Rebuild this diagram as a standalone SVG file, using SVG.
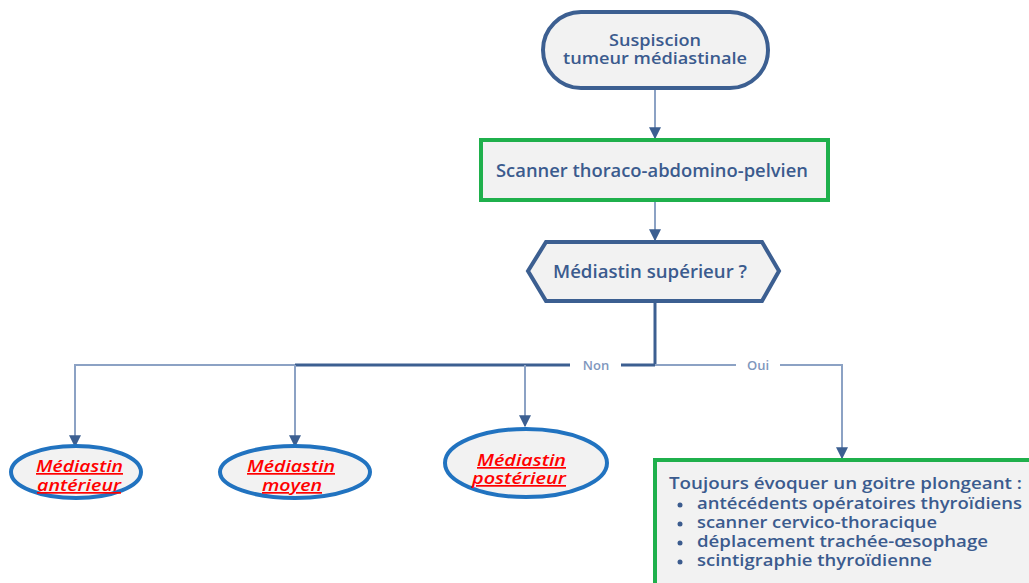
<svg xmlns="http://www.w3.org/2000/svg" width="1029" height="583" viewBox="0 0 1029 583">
<defs>
<style>
.t{font-family:"Open Sans","Liberation Sans",sans-serif;font-weight:600;fill:#3b5b8e;}
.r{font-family:"Open Sans","Liberation Sans",sans-serif;font-weight:600;font-style:italic;fill:#ff0000;text-decoration:underline;font-size:17px;}
.blue{fill:#f2f2f2;stroke:#3c5f91;stroke-width:4;}
.green{fill:#f2f2f2;stroke:#1fb04c;stroke-width:4;}
.ell{fill:#f2f2f2;stroke:#2173c0;stroke-width:4;}
.dk{stroke:#3c5f91;stroke-width:3;fill:none;}
.lt{stroke:#8ca2c4;stroke-width:2;fill:none;}
</style>
<marker id="ar2" viewBox="0 0 10 10" refX="9" refY="5" markerWidth="6" markerHeight="6" markerUnits="strokeWidth" orient="auto">
<path d="M0,0 L10,5 L0,10 z" fill="#3c5f91"/>
</marker>
</defs>
<g id="connectors">
<line class="lt" x1="655" y1="90" x2="655" y2="138" marker-end="url(#ar2)"/>
<line class="lt" x1="655" y1="202" x2="655" y2="240" marker-end="url(#ar2)"/>
<line class="dk" x1="655" y1="303" x2="655" y2="365"/>
<path class="lt" d="M295,365 H75 V446" marker-end="url(#ar2)"/>
<path class="dk" d="M295,365 H570"/>
<path class="dk" d="M621,365 H655"/>
<line class="lt" x1="295" y1="365" x2="295" y2="446" marker-end="url(#ar2)"/>
<line class="lt" x1="525" y1="365" x2="525" y2="426" marker-end="url(#ar2)"/>
<path class="lt" d="M655,365 H736"/>
<path class="lt" d="M780,365 H842 V458" marker-end="url(#ar2)"/>
<text class="t" x="596" y="370" font-size="13" text-anchor="middle" style="fill:#7f97bd">Non</text>
<text class="t" x="758" y="370" font-size="13" text-anchor="middle" style="fill:#7f97bd">Oui</text>
</g>
<g id="n1">
<rect class="blue" x="543" y="12" width="225" height="76" rx="38" ry="38"/>
<text class="t" x="609" y="46" font-size="17" textLength="92" lengthAdjust="spacingAndGlyphs">Suspiscion</text>
<text class="t" x="563" y="64" font-size="17" textLength="184" lengthAdjust="spacingAndGlyphs">tumeur médiastinale</text>
</g>
<g id="n2">
<rect class="green" x="481" y="140" width="347" height="60"/>
<text class="t" x="496" y="177" font-size="18" textLength="312" lengthAdjust="spacingAndGlyphs">Scanner thoraco-abdomino-pelvien</text>
</g>
<g id="n3">
<polygon class="blue" points="528,271 546,242 762,242 779,271 762,301 546,301"/>
<text class="t" x="553" y="278" font-size="18" textLength="194" lengthAdjust="spacingAndGlyphs">Médiastin supérieur ?</text>
</g>
<g id="n4">
<ellipse class="ell" cx="76" cy="472" rx="65" ry="26"/>
<text class="r" x="36" y="472" textLength="87" lengthAdjust="spacingAndGlyphs">Médiastin</text>
<text class="r" x="37" y="491" textLength="84" lengthAdjust="spacingAndGlyphs">antérieur</text>
</g>
<g id="n5">
<ellipse class="ell" cx="295" cy="472" rx="75" ry="26"/>
<text class="r" x="247" y="472" textLength="88" lengthAdjust="spacingAndGlyphs">Médiastin</text>
<text class="r" x="262" y="491" textLength="60" lengthAdjust="spacingAndGlyphs">moyen</text>
</g>
<g id="n6">
<ellipse class="ell" cx="526" cy="463" rx="81" ry="34"/>
<text class="r" x="477" y="466" textLength="89" lengthAdjust="spacingAndGlyphs">Médiastin</text>
<text class="r" x="472" y="484" textLength="94" lengthAdjust="spacingAndGlyphs">postérieur</text>
</g>
<g id="n7">
<rect class="green" x="655" y="460" width="380" height="126"/>
<g class="t" font-size="17">
<text x="669" y="489" textLength="353" lengthAdjust="spacingAndGlyphs">Toujours évoquer un goitre plongeant :</text>
<circle cx="680" cy="505" r="2.5" fill="#3b5b8e"/>
<circle cx="680" cy="524" r="2.5" fill="#3b5b8e"/>
<circle cx="680" cy="543" r="2.5" fill="#3b5b8e"/>
<circle cx="680" cy="562" r="2.5" fill="#3b5b8e"/>
<text x="697" y="509" textLength="325" lengthAdjust="spacingAndGlyphs">antécédents opératoires thyroïdiens</text>
<text x="697" y="528" textLength="240" lengthAdjust="spacingAndGlyphs">scanner cervico-thoracique</text>
<text x="697" y="547" textLength="291" lengthAdjust="spacingAndGlyphs">déplacement trachée-œsophage</text>
<text x="697" y="566" textLength="235" lengthAdjust="spacingAndGlyphs">scintigraphie thyroïdienne</text>
</g>
</g>
</svg>
